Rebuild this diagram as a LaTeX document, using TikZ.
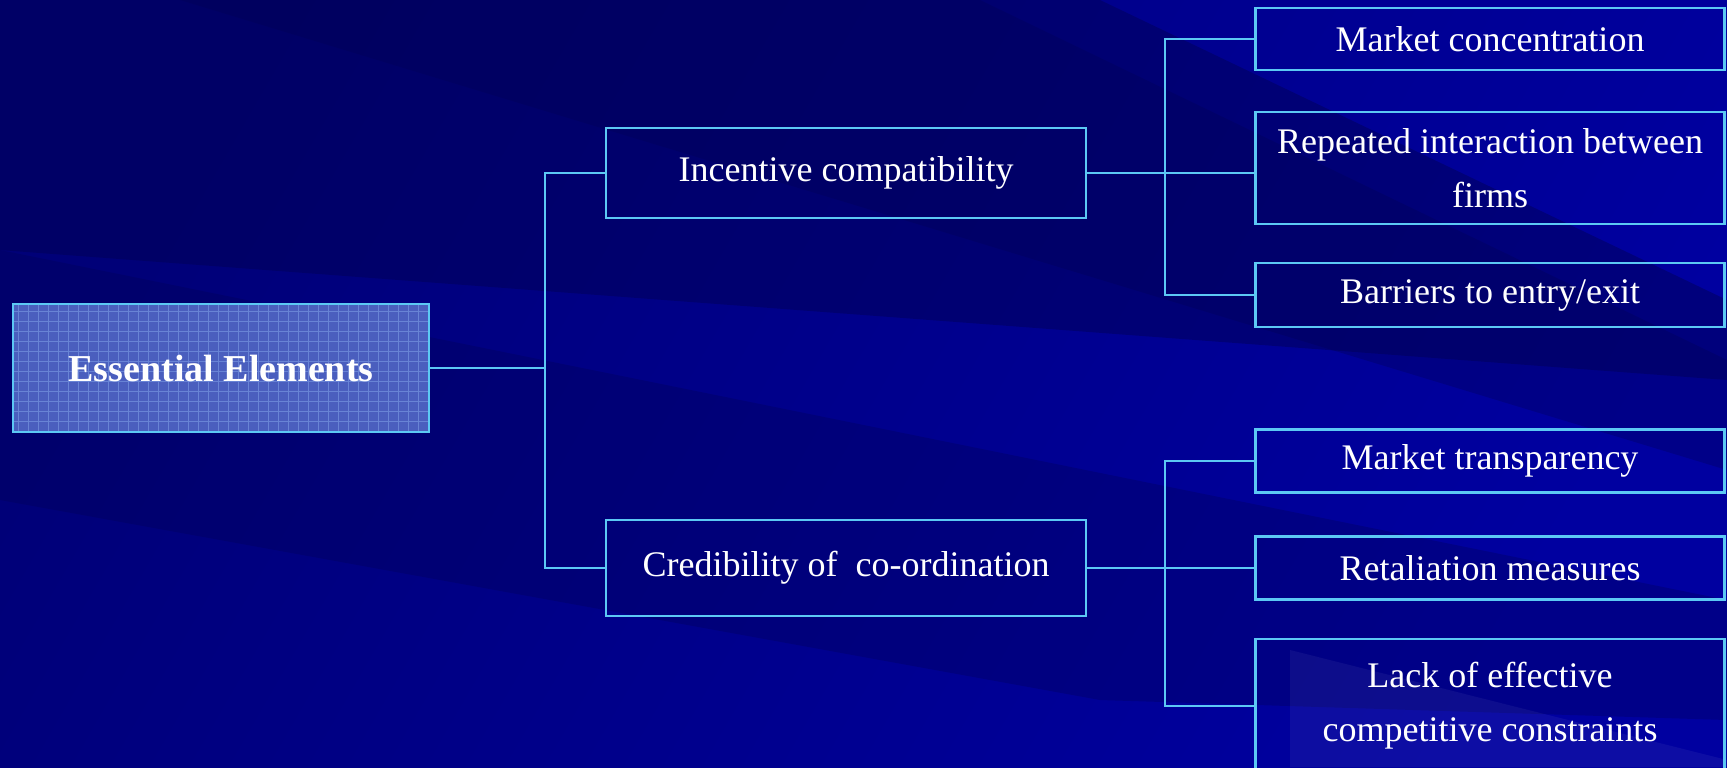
\documentclass[tikz,border=0pt]{standalone}
\usepackage{fontspec}
\setmainfont{Liberation Serif}
\usepackage{xcolor}
\usepackage{tikz}
\usetikzlibrary{positioning,calc}
\definecolor{BgDark}{HTML}{000052}
\definecolor{BgMid}{HTML}{000078}
\definecolor{BgLight}{HTML}{0000A0}
\definecolor{LineCyan}{HTML}{5CC8F4}
\definecolor{RootFill}{HTML}{4A5EBE}
\definecolor{GridBlue}{HTML}{86A9EC}

\begin{document}
\begin{tikzpicture}[x=0.5pt,y=-0.5pt,
          every node/.style={font=\fontsize{18}{27}\selectfont, text=white},
          box/.style={draw=LineCyan, line width=1.1pt, align=center, inner sep=3pt},
          leaf/.style={box, minimum width=234.5pt},
          mid/.style={box, minimum width=240pt},
          ln/.style={LineCyan, line width=1.1pt}]
        % background
        \shade[shading=axis, left color=BgMid, right color=BgLight, shading angle=60] (0,0) rectangle (1727,767);
        \fill[BgDark, opacity=0.45] (0,0) -- (1100,0) -- (1727,300) -- (1727,380) -- (0,250) -- cycle;
        \fill[BgDark, opacity=0.3] (180,0) -- (980,0) -- (1727,360) -- (1727,470) -- cycle;
        \fill[BgDark, opacity=0.3] (0,250) -- (0,500) -- (1100,700) -- (1727,720) -- (1727,600) -- cycle;
        \fill[white, opacity=0.05] (1290,650) -- (1727,760) -- (1727,767) -- (1290,767) -- cycle;
        \useasboundingbox (0,0) rectangle (1727,767);

        \node[box, fill=RootFill, minimum width=208pt, minimum height=64pt,
          font=\fontsize{19}{27}\selectfont,
          path picture={\draw[GridBlue, opacity=0.5, line width=0.35pt, step=5pt]
            (path picture bounding box.south west) grid (path picture bounding box.north east);}]
        (root) at (221,368) {\textbf{Essential Elements}};

        \node[mid, minimum height=45pt] (inc) at (846,173) {Incentive compatibility};
        \node[mid, minimum height=48pt] (cred) at (846,568) {Credibility of~ co-ordination};

        \node[leaf, minimum height=31pt] (mc) at (1490,39) {Market concentration};
        \node[leaf, minimum height=56pt] (ri) at (1490,168) {Repeated interaction between\\firms};
        \node[leaf, minimum height=32pt] (bt) at (1490,295) {Barriers to entry/exit};
        \node[leaf, minimum height=31.5pt] (mt) at (1490,461) {Market transparency};
        \node[leaf, minimum height=31.5pt] (rm) at (1490,568) {Retaliation measures};
        \node[leaf, minimum height=67pt] (lk) at (1490,706) {Lack of effective\\competitive constraints};

        \coordinate (bus1) at (545,368);
        \coordinate (bus2) at (1165,173);
        \coordinate (bus3) at (1165,568);
        \draw[ln] (root.east) -- (bus1);
        \draw[ln] (inc.west) -| (bus1) |- (cred.west);
        \draw[ln] (inc.east) -- (bus2);
        \draw[ln] (mc.west) -| (bus2) |- (bt.west);
        \draw[ln] (bus2) -- (bus2 -| ri.west);
        \draw[ln] (cred.east) -- (bus3);
        \draw[ln] (mt.west) -| (bus3) |- (lk.west);
        \draw[ln] (bus3) -- (rm.west);
      \end{tikzpicture}
\end{document}
